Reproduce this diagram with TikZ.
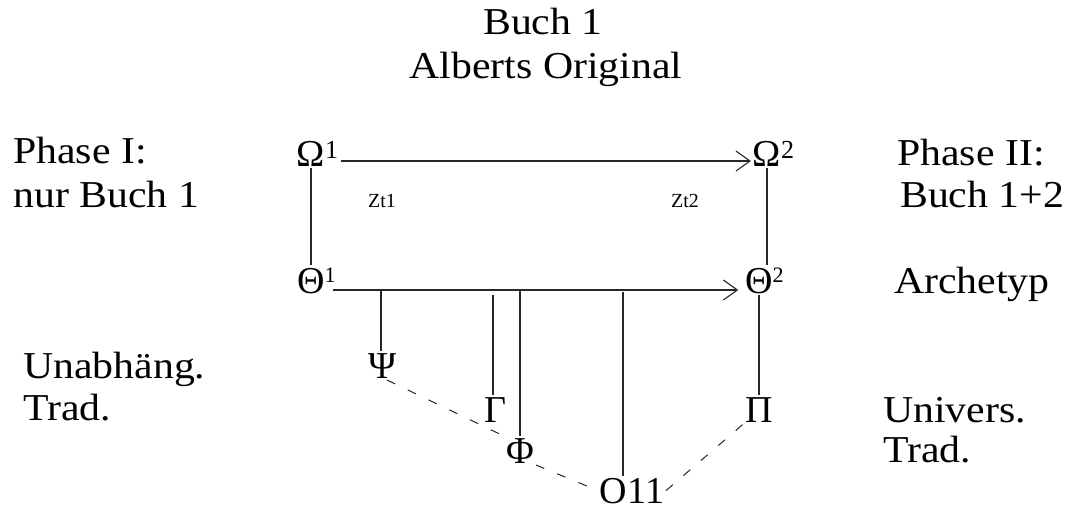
\documentclass[tikz,border=0pt]{standalone}
\usepackage{fontspec}
\setmainfont{Liberation Serif}
\usetikzlibrary{arrows.meta}
\newcommand{\hst}[1]{\scalebox{1.1}[1]{#1}}
\newcommand{\supr}[3]{\rlap{\raisebox{#1pt}{\fontsize{#2}{#2}\selectfont #3}}}
\begin{document}
\begin{tikzpicture}[x=1pt,y=-1pt,
 txt/.style={inner sep=0pt, anchor=base west, font=\fontsize{38}{44}\selectfont},
 ttl/.style={inner sep=0pt, anchor=base, font=\fontsize{38}{44}\selectfont},
 gr/.style={inner sep=2pt, outer sep=0pt, anchor=base, font=\fontsize{38}{44}\selectfont},
 zt/.style={inner sep=0pt, anchor=base west, font=\fontsize{20}{24}\selectfont},
 ln/.style={draw=black!85, line width=1.3pt},
 arr/.style={ln, -{Straight Barb[length=14pt,width=20pt,line width=1.1pt]}},
 dsh/.style={draw=black!85, line width=1pt, dash pattern=on 9pt off 14pt}]
\useasboundingbox[fill=white] (0,0) rectangle (1070,511);
% titles and side labels
\node[ttl] (t1) at (543,35) {\hst{Buch 1}};
\node[ttl] (t2) at (546,78) {\hst{Alberts Original}};
\node[txt] (p1a) at (13,163) {\hst{Phase I:}};
\node[txt] (p1b) at (13,207) {\hst{nur Buch 1}};
\node[txt] (p2a) at (897,165) {\hst{Phase II:}};
\node[txt] (p2b) at (900,207) {\hst{Buch 1+2}};
\node[txt] (arch) at (894,293) {\hst{Archetyp}};
\node[txt] (un1) at (23,378) {\hst{Unabhäng.}};
\node[txt] (un2) at (23,420) {\hst{Trad.}};
\node[txt] (uv1) at (883,422) {\hst{Univers.}};
\node[txt] (uv2) at (883,462) {\hst{Trad.}};
% sigla
\node[gr] (O1) at (311,166) {Ω\supr{8}{26}{1}};
\node[gr] (O2) at (767,166) {Ω\supr{8}{26}{2}};
\node[gr] (T1) at (311,293) {Θ\supr{11}{22}{1}};
\node[gr] (T2) at (759,293) {Θ\supr{11}{22}{2}};
\node[gr] (Psi) at (383,378) {Ψ};
\node[gr] (Gam) at (495,422) {Γ};
\node[gr] (Phi) at (520,463) {Φ};
\node[gr] (O11) at (632,503) {O11};
\node[gr] (Pi) at (759,422) {Π};
\node[zt] (z1) at (368,207) {Zt1};
\node[zt] (z2) at (671,207) {Zt2};
% connectors
\draw[ln] (O1.south) -- (O1.south |- T1.north);
\draw[ln] (O2.south) -- (O2.south |- T2.north);
\draw[arr] ([shift={(14,-5)}]O1.base east) -- ([shift={(0,-5)}]O2.base west);
\draw[arr] ([shift={(6,-3)}]T1.base east) -- ([shift={(-5,-3)}]T2.base west);
\coordinate (bPsi) at (381,290);
\coordinate (bGam) at (493,295);
\coordinate (bPhi) at (520,290);
\coordinate (bO) at (623,292);
\draw[ln] (bPsi) -- (bPsi |- Psi.north);
\draw[ln] (bGam) -- (bGam |- Gam.north);
\draw[ln] (bPhi) -- (bPhi |- Phi.north);
\draw[ln] (bO) -- (bO |- O11.north);
\draw[ln] (T2.south) -- (T2.south |- Pi.north);
\draw[dsh] ([xshift=4pt]Psi.south) -- (Phi.north west);
\draw[dsh] (Phi.south east) -- (O11.west);
\draw[dsh] (O11.east) -- (Pi.south west);
\end{tikzpicture}
\end{document}
